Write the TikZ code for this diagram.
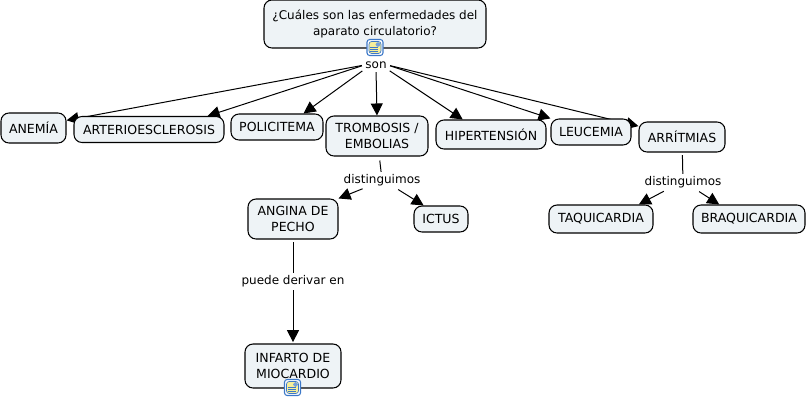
\documentclass[tikz,border=0pt]{standalone}
\usepackage{fontspec}
\setmainfont{DejaVu Sans}
\usetikzlibrary{arrows.meta}
\pgfdeclarelayer{edgelayer}
\pgfsetlayers{edgelayer,main}
\definecolor{conceptfill}{HTML}{EEF3F6}
\definecolor{iconblue}{HTML}{3C78C8}
\definecolor{iconyellow}{HTML}{F6EE9A}
\tikzset{
  concept/.style={draw,rounded corners=6pt,fill=conceptfill,align=center,inner sep=0pt,font=\fontsize{9.4}{11.5}\selectfont,line width=0.8pt},
  linklabel/.style={inner sep=0.5pt,font=\fontsize{9}{12}\selectfont},
  arrowline/.style={-{Triangle[length=9pt,width=9pt]},line width=0.75pt},
  plainline/.style={line width=0.75pt},
  noteicon/.style={draw=iconblue,fill=white,rounded corners=2pt,line width=0.8pt,minimum size=12pt,inner sep=0pt,
    path picture={
      \fill[iconyellow] ([shift={(1.5pt,1.5pt)}]path picture bounding box.south west) rectangle ([shift={(-1.5pt,-1.5pt)}]path picture bounding box.north east);
      \draw[line width=0.5pt] ([shift={(1.5pt,1.5pt)}]path picture bounding box.south west) rectangle ([shift={(-1.5pt,-1.5pt)}]path picture bounding box.north east);
      \fill[iconblue!70] ([shift={(-5.5pt,-5.5pt)}]path picture bounding box.north east) rectangle ([shift={(-2pt,-2pt)}]path picture bounding box.north east);
      \foreach \ypos in {3,4.5,6}
        \draw[line width=0.4pt] ([shift={(2.5pt,\ypos pt)}]path picture bounding box.south west) -- ([shift={(8.5pt,\ypos pt)}]path picture bounding box.south west);
    }}
}
\begin{document}
\begin{tikzpicture}[x=0.75pt,y=-0.75pt]
\useasboundingbox (0,0) rectangle (807,400);
% concepts
\node[concept,font=\fontsize{9}{11.5}\selectfont,minimum width=166.5pt,minimum height=36pt] (root) at (375,24) {¿Cuáles son las enfermedades del\\aparato circulatorio?};
\node[concept,minimum width=48.75pt,minimum height=22.5pt] (anemia) at (33.5,128) {ANEMÍA};
\node[concept,minimum width=112.5pt,minimum height=19.5pt] (arterio) at (149,129.5) {ARTERIOESCLEROSIS};
\node[concept,minimum width=69pt,minimum height=19.5pt] (policitema) at (277,127) {POLICITEMA};
\node[concept,minimum width=76.5pt,minimum height=30pt] (trombosis) at (377,136) {TROMBOSIS /\\EMBOLIAS};
\node[concept,minimum width=82.5pt,minimum height=21.75pt] (hipertension) at (491,134.5) {HIPERTENSIÓN};
\node[concept,minimum width=60pt,minimum height=19.5pt] (leucemia) at (591,132) {LEUCEMIA};
\node[concept,minimum width=64.5pt,minimum height=22.5pt] (arritmias) at (682,137) {ARRÍTMIAS};
\node[concept,minimum width=67.5pt,minimum height=30pt] (angina) at (293,219) {ANGINA DE\\PECHO};
\node[concept,minimum width=40.5pt,minimum height=19.5pt] (ictus) at (441,219) {ICTUS};
\node[concept,minimum width=78pt,minimum height=21pt] (taquicardia) at (601,219) {TAQUICARDIA};
\node[concept,minimum width=84pt,minimum height=21pt] (braquicardia) at (749,219) {BRAQUICARDIA};
\node[concept,minimum width=72pt,minimum height=33pt] (infarto) at (293,366) {INFARTO DE\\MIOCARDIO};
% link labels
\node[linklabel] (son) at (376,65) {son};
\node[linklabel] (dist1) at (382,180) {distinguimos};
\node[linklabel] (dist2) at (683,182) {distinguimos};
\node[linklabel] (puede) at (293,281) {puede derivar en};
% icons
\node[noteicon] (rooticon) at (375,47.5) {};
\node[noteicon] (infartoicon) at (292.5,387.5) {};
% connectors
\begin{pgfonlayer}{edgelayer}
\draw[arrowline,shorten <=2pt] (son.west) -- (anemia.13);
\draw[arrowline,shorten <=2pt] (son.west) -- (arterio.13.5);
\draw[arrowline,shorten <=2pt] (son.south west) -- (policitema.27.5);
\draw[arrowline,shorten <=2pt] (son.south) -- (trombosis.north);
\draw[arrowline,shorten <=2pt] (son.south east) -- (hipertension.152.6);
\draw[arrowline,shorten <=2pt] (son.east) -- (leucemia.north west);
\draw[arrowline,shorten <=2pt] (son.east) -- (arritmias.166);
\draw[plainline,shorten <=3pt,shorten >=1pt] (trombosis) -- (dist1);
\draw[arrowline,shorten <=4pt] (dist1.205) -- (angina.north east);
\draw[arrowline,shorten <=4pt] (dist1.330) -- (ictus.142);
\draw[plainline,shorten <=2pt,shorten >=1pt] (arritmias) -- (dist2);
\draw[arrowline,shorten <=4pt] (dist2.205) -- (taquicardia.21);
\draw[arrowline,shorten <=4pt] (dist2.330) -- (braquicardia.154);
\draw[plainline,shorten <=2pt,shorten >=1pt] (angina) -- (puede);
\draw[arrowline,shorten <=2pt,shorten >=1pt] (puede) -- (infarto);
\end{pgfonlayer}
\end{tikzpicture}
\end{document}
